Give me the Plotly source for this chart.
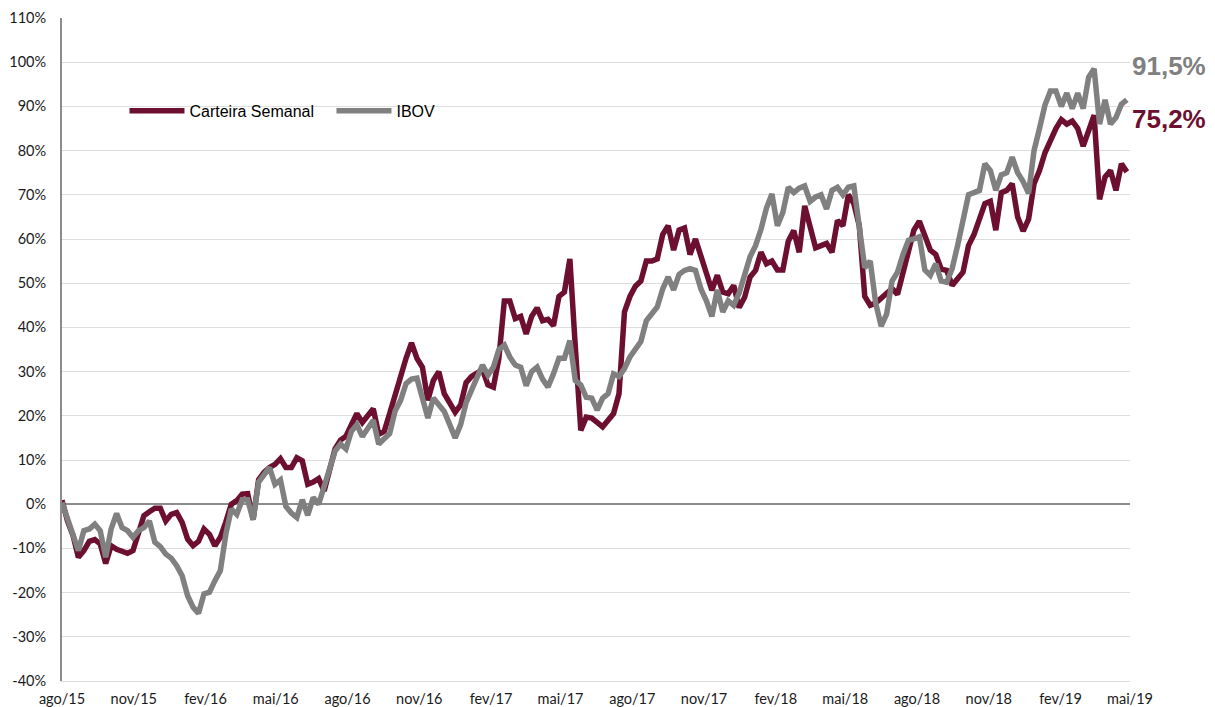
import pandas as pd
import plotly.graph_objects as go

# ---------------- data (weekly observations, cumulative return in %) ----------------
start_date = "2015-08-01"
carteira = [
    0.9, -3.8, -7, -12, -10.5, -8.4, -8, -9, -13.4, -9.4,
    -10.2, -10.7, -11.1, -10.5, -6, -2.6, -1.7, -0.9, -0.9, -3.8,
    -2.3, -1.9, -4.1, -7.9, -9.4, -8.4, -5.6, -6.8, -9.4, -7.5,
    -4, 0, 0.8, 2.3, 2.4, -3.5, 5.5, 7.2, 8.3, 9,
    10.3, 8.3, 8.3, 10.5, 9.8, 4.5, 5, 5.8, 3, 7.5,
    12.5, 14.5, 15.4, 18, 20.5, 18.5, 20, 21.6, 15.8, 16.5,
    20.5, 24.9, 28.3, 33, 36.5, 33, 31, 23.5, 28, 30,
    25, 22.7, 20.8, 22.5, 27.5, 28.9, 29.5, 30.4, 27, 26.5,
    33, 46, 46, 42, 42.5, 38.5, 42.5, 44.4, 41.5, 41.8,
    40.4, 47, 48, 55.5, 35.5, 16.7, 19.7, 19.5, 18.5, 17.5,
    19, 20.5, 25, 43.5, 47, 49.3, 50.5, 55, 55, 55.5,
    61, 63, 57.5, 62, 62.5, 56.5, 60, 55.9, 52, 48.4,
    51.8, 48, 47.6, 49.5, 44.5, 46.8, 51.4, 52.9, 57, 54.4,
    55, 53, 53, 59.5, 61.9, 57, 67.5, 62.5, 58, 58.5,
    59, 57, 64.2, 63, 70, 68, 63, 47, 45, 45.5,
    46.5, 47.5, 48.8, 47.5, 52.5, 57.4, 62, 64, 60.5, 57.5,
    56.5, 53.2, 52.9, 49.5, 51, 52.5, 58.5, 61, 64.5, 68,
    68.5, 62, 70.5, 71, 72.5, 65, 61.8, 64.5, 72.5, 75.5,
    79.5, 82.3, 85, 87, 86, 86.7, 85, 81, 84.6, 88,
    69, 74, 75.5, 71, 77, 75.2,
]
ibov = [
    0.4, -3, -7.1, -10.5, -6, -5.6, -4.5, -6, -12, -5.6,
    -2.1, -5.3, -6, -7.5, -6, -5.3, -3.8, -8.6, -9.6, -11.3,
    -12.2, -13.9, -16.2, -20.7, -23.3, -24.7, -20.3, -19.9, -17.3, -15,
    -6.8, -1.1, -2.3, 1, 1, -3.5, 5, 6.5, 8.3, 4.5,
    5.5, -0.5, -2, -3, 1, -2.5, 1.5, 0, 4.2, 7.5,
    12, 13.6, 12.5, 16.5, 18, 15.3, 17, 19, 13.6, 15,
    16, 21.1, 23.5, 27.3, 28.3, 28.5, 24, 19.5, 24, 22.5,
    21, 18, 15, 18, 23, 25.8, 28.5, 31.5, 29.2, 31,
    35, 36, 33.3, 31.5, 31, 26.8, 30, 31, 28.3, 26.5,
    29.5, 33, 33, 37, 28, 27, 24.2, 24, 21.3, 24,
    25, 29.5, 28.9, 30.7, 33.3, 35.2, 36.8, 41.5, 43, 44.6,
    48.7, 51.4, 48.5, 52, 52.9, 53.3, 52.9, 48.7, 46, 42.5,
    48.5, 43.5, 46, 45, 47.8, 51.5, 56, 58.5, 62.2, 67,
    70.2, 63, 66, 71.7, 70.5, 71.5, 72, 68.5, 69.5, 70,
    66.8, 71, 71.7, 70, 71.7, 72, 62.5, 53.5, 55, 45.5,
    40.3, 43, 50.5, 52.5, 56.5, 59.7, 60, 60.5, 53, 51.8,
    54.4, 50.5, 50.2, 53.3, 58.5, 64.5, 70, 70.5, 71, 77,
    75.5, 71, 74.5, 75, 78.5, 75, 73, 70.3, 80, 85,
    90.3, 93.5, 93.5, 90, 93, 89.5, 93, 89.5, 96.6, 98.5,
    86, 91.5, 86, 87.5, 90.5, 91.5,
]
dates = pd.date_range(start_date, periods=len(carteira), freq="7D")

x_tick_dates = ["2015-08-01", "2015-11-01", "2016-02-01", "2016-05-01", "2016-08-01",
                "2016-11-01", "2017-02-01", "2017-05-01", "2017-08-01", "2017-11-01",
                "2018-02-01", "2018-05-01", "2018-08-01", "2018-11-01", "2019-02-01",
                "2019-05-01"]
x_tick_labels = ["ago/15", "nov/15", "fev/16", "mai/16", "ago/16", "nov/16", "fev/17",
                 "mai/17", "ago/17", "nov/17", "fev/18", "mai/18", "ago/18", "nov/18",
                 "fev/19", "mai/19"]
y_ticks = [-40, -30, -20, -10, 0, 10, 20, 30, 40, 50, 60, 70, 80, 90, 100, 110]
y_tick_labels = [f"{v}%" for v in y_ticks]

series_names = ["Carteira Semanal", "IBOV"]

# ---------------- style ----------------
MAROON = "#6C0F30"
GRAY = "#808080"
TICK_FONT = dict(family="Lato, Carlito, sans-serif", size=14.5, color="#1a1a1a")

fig = go.Figure()
fig.add_trace(go.Scatter(x=dates, y=carteira, mode="lines", name=series_names[0],
                         line=dict(color=MAROON, width=5.5)))
fig.add_trace(go.Scatter(x=dates, y=ibov, mode="lines", name=series_names[1],
                         line=dict(color=GRAY, width=5.5)))

fmt = lambda v: f"{v:.1f}%".replace(".", ",")
fig.add_annotation(xref="paper", yref="y", x=1.0, y=99.2, xanchor="left", yanchor="middle",
                   text=f"<b>{fmt(ibov[-1])}</b>", showarrow=False,
                   font=dict(family="Liberation Sans, Arial", size=26, color=GRAY))
fig.add_annotation(xref="paper", yref="y", x=1.0, y=87.2, xanchor="left", yanchor="middle",
                   text=f"<b>{fmt(carteira[-1])}</b>", showarrow=False,
                   font=dict(family="Liberation Sans, Arial", size=26, color=MAROON))

# The page body adds an 8px offset, so the figure is 8px smaller than the window.
fig.update_layout(
    width=1207, height=699,
    margin=dict(l=54, r=85, t=10, b=26, autoexpand=False),
    paper_bgcolor="white", plot_bgcolor="white",
    showlegend=True,
    legend=dict(orientation="h", x=0.0585, y=0.86, xanchor="left", yanchor="middle",
                font=dict(family="Liberation Sans, Arial", size=16, color="#000000"),
                bgcolor="rgba(0,0,0,0)", itemwidth=55, tracegroupgap=0,
                entrywidth=137, entrywidthmode="pixels"),
    xaxis=dict(type="date", range=["2015-08-01", "2019-05-01"], automargin=False,
               tickmode="array", tickvals=x_tick_dates, ticktext=x_tick_labels,
               showgrid=False, zeroline=False, showline=True, linecolor="#dedede",
               linewidth=1, ticks="", tickfont=TICK_FONT, ticklabelstandoff=5),
    yaxis=dict(range=[-40, 110], automargin=False, tickmode="array",
               tickvals=y_ticks, ticktext=y_tick_labels,
               showgrid=True, gridcolor="#dedede", gridwidth=1,
               zeroline=True, zerolinecolor="#8c8c8c", zerolinewidth=1.5,
               showline=True, linecolor="#8c8c8c", linewidth=2,
               ticks="", tickfont=TICK_FONT, ticklabelstandoff=11),
)

fig.write_html("out.html")
